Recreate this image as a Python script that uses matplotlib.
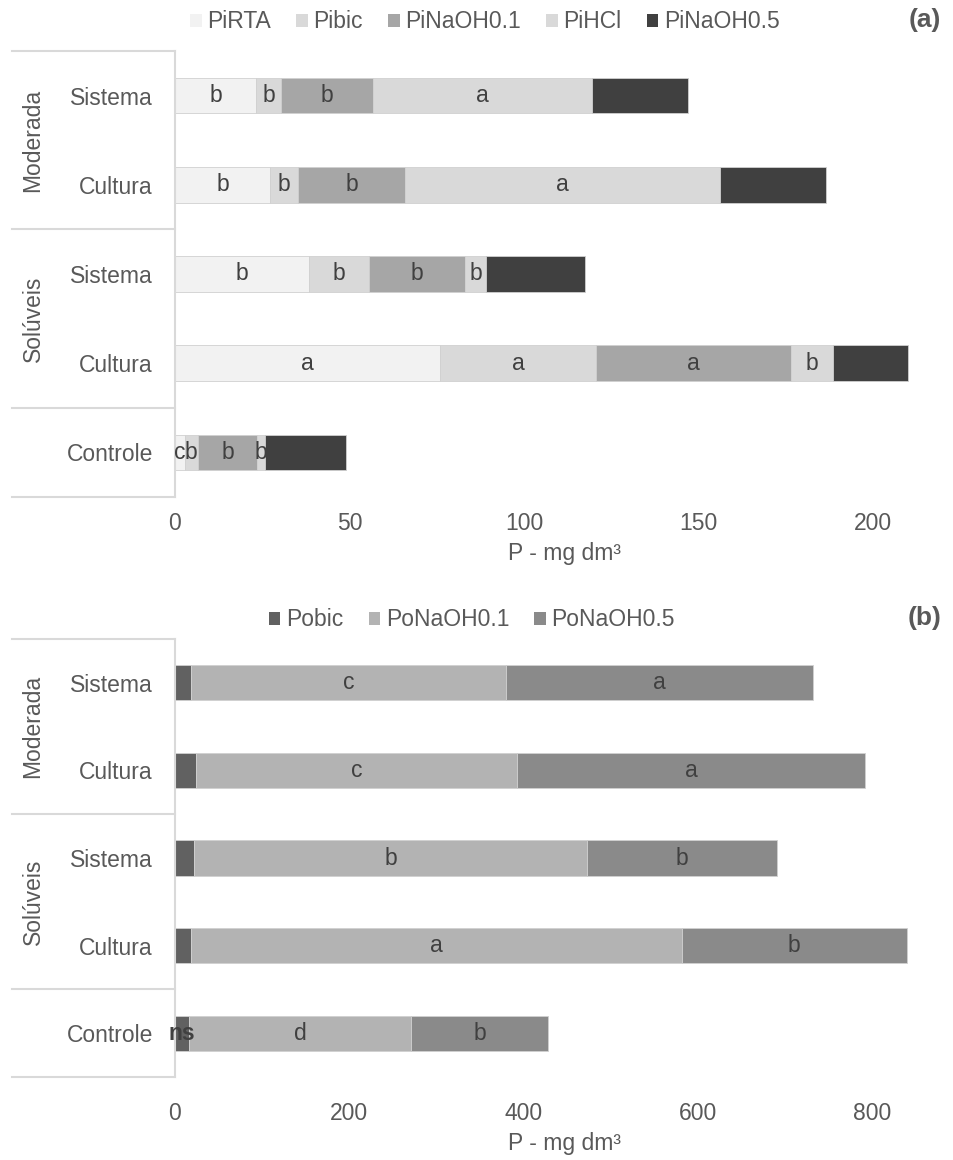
import matplotlib
matplotlib.use("Agg")
import matplotlib.pyplot as plt
from matplotlib.patches import Patch

plt.rcParams['font.family'] = ['Liberation Sans', 'DejaVu Sans']

categories = ['Sistema', 'Cultura', 'Sistema', 'Cultura', 'Controle']
groups = ['Moderada', 'Solúveis']

# (a) inorganic P fractions
pi_names = ['PiRTA', 'Pibic', 'PiNaOH0.1', 'PiHCl', 'PiNaOH0.5']
pi_rta = [23.2, 27.2, 38.4, 75.9, 2.9]
pi_bic = [7.2, 8.1, 17.3, 44.7, 3.6]
pi_naoh01 = [26.2, 30.6, 27.4, 55.8, 17.1]
pi_hcl = [63.0, 90.3, 6.0, 12.2, 2.2]
pi_naoh05 = [27.5, 30.4, 28.4, 21.3, 23.2]
pi_letters = [
    ['b', 'b', 'b', 'a', 'c'],
    ['b', 'b', 'b', 'a', 'b'],
    ['b', 'b', 'b', 'a', 'b'],
    ['a', 'a', 'b', 'b', 'b'],
    ['', '', '', '', ''],
]
pi_colors = ['#f2f2f2', '#d9d9d9', '#a6a6a6', '#d9d9d9', '#404040']

# (b) organic P fractions
po_names = ['Pobic', 'PoNaOH0.1', 'PoNaOH0.5']
po_bic = [17.8, 24.6, 22.0, 17.8, 16.6]
po_naoh01 = [361.8, 368.0, 450.4, 563.5, 254.4]
po_naoh05 = [352.2, 398.4, 217.6, 257.9, 156.5]
po_letters = [
    ['', '', '', '', 'ns'],
    ['c', 'c', 'b', 'a', 'd'],
    ['a', 'a', 'b', 'b', 'b'],
]
po_colors = ['#616161', '#b3b3b3', '#8a8a8a']

FS = 16.5
TXT = '#595959'
LINE = '#d9d9d9'
W, H = 954, 1160

fig = plt.figure(figsize=(W / 100, H / 100), dpi=100)


def make_axes(top_px, bot_px):
    left = 175
    return fig.add_axes([left / W, 1 - bot_px / H, (W - left) / W, (bot_px - top_px) / H])


def draw_panel(ax, series, colors, letters, xmax, ticks, xpad, bold_idx=None):
    y = list(range(len(categories)))
    left = [0.0] * len(categories)
    for i, vals in enumerate(series):
        bars = ax.barh(y, vals, left=left, height=0.4, color=colors[i],
                       edgecolor='#d0d0d0', linewidth=0.6)
        texts = ax.bar_label(bars, labels=letters[i], label_type='center',
                             fontsize=FS, color='#404040')
        if bold_idx is not None and i == bold_idx[0]:
            texts[bold_idx[1]].set_fontweight('bold')
        left = [a + b for a, b in zip(left, vals)]
    ax.set_ylim(len(categories) - 0.5, -0.5)
    ax.set_xlim(0, xmax)
    ax.set_xticks(ticks)
    ax.set_yticks(y)
    ax.set_yticklabels(categories)
    ax.tick_params(axis='both', length=0, labelsize=FS, colors=TXT)
    ax.tick_params(axis='y', pad=16)
    ax.tick_params(axis='x', pad=xpad)
    for s in ['top', 'right', 'bottom']:
        ax.spines[s].set_visible(False)
    ax.spines['left'].set_color(LINE)
    ax.spines['left'].set_linewidth(1.5)
    ax.set_xlabel('P - mg dm³', fontsize=FS, color=TXT, labelpad=5)

    # multi-level category axis lines and group labels
    x0 = (12 - 175) / (W - 175)
    tr = ax.get_yaxis_transform()
    for yb in [-0.5, 1.5, 3.5, 4.5]:
        ax.plot([x0, 0], [yb, yb], color=LINE, lw=1.5, transform=tr, clip_on=False)
    xg = (33 - 175) / (W - 175)
    for g, yc in zip(groups, [0.5, 2.5]):
        ax.text(xg, yc, g, rotation=90, ha='center', va='center',
                fontsize=FS, color=TXT, transform=tr)


ax1 = make_axes(51, 497)
draw_panel(ax1, [pi_rta, pi_bic, pi_naoh01, pi_hcl, pi_naoh05], pi_colors,
           pi_letters, (W - 175) / 3.49, [0, 50, 100, 150, 200], 11)

ax2 = make_axes(639, 1077)
draw_panel(ax2, [po_bic, po_naoh01, po_naoh05], po_colors,
           po_letters, (W - 175) / 0.872, [0, 200, 400, 600, 800], 18, bold_idx=(0, 4))

for names, colors, ypx, xc in [(pi_names, pi_colors, 22, 485), (po_names, po_colors, 620, 472)]:
    handles = [Patch(facecolor=c, edgecolor='none') for c in colors]
    leg = fig.legend(handles, names, loc='center', bbox_to_anchor=(xc / W, 1 - ypx / H),
                     ncol=len(names), frameon=False, fontsize=FS,
                     handlelength=0.5, handleheight=0.5, handletextpad=0.25,
                     columnspacing=1.1, borderaxespad=0)
    for t in leg.get_texts():
        t.set_color(TXT)

fig.text(925 / W, 1 - 20 / H, '(a)', fontsize=19, fontweight='bold', color=TXT,
         ha='center', va='center')
fig.text(925 / W, 1 - 618 / H, '(b)', fontsize=19, fontweight='bold', color=TXT,
         ha='center', va='center')

fig.savefig('out.png', dpi=100)
